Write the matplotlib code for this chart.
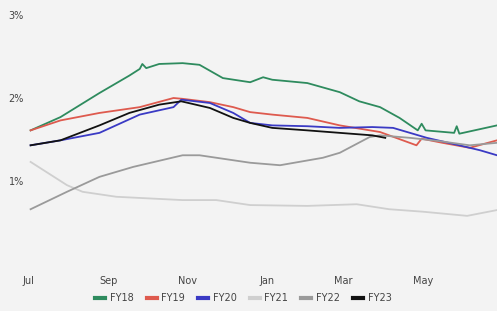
import matplotlib.pyplot as plt

# dias desde 1 de julho e valores em %
fy18_dias = [2, 25, 55, 78, 86, 88, 91, 101, 119, 132, 150, 171, 181, 188, 215, 240, 255, 271, 286, 300, 303, 306, 328, 330, 332, 361]
fy18 = [1.61, 1.77, 2.06, 2.27, 2.35, 2.41, 2.36, 2.41, 2.42, 2.40, 2.24, 2.19, 2.25, 2.22, 2.18, 2.07, 1.96, 1.89, 1.76, 1.61, 1.69, 1.61, 1.58, 1.66, 1.57, 1.67]

fy19_dias = [2, 25, 55, 86, 112, 119, 140, 158, 171, 188, 215, 240, 271, 299, 303, 319, 340, 361]
fy19 = [1.61, 1.73, 1.82, 1.89, 2.00, 1.99, 1.95, 1.89, 1.83, 1.80, 1.76, 1.67, 1.59, 1.43, 1.51, 1.46, 1.40, 1.49]

fy20_dias = [2, 25, 55, 86, 112, 118, 140, 158, 171, 188, 215, 240, 265, 281, 307, 332, 348, 361]
fy20 = [1.43, 1.49, 1.58, 1.80, 1.89, 1.98, 1.94, 1.82, 1.70, 1.67, 1.66, 1.64, 1.65, 1.64, 1.52, 1.43, 1.37, 1.31]

fy21_dias = [2, 30, 42, 68, 119, 145, 171, 215, 253, 278, 304, 338, 361]
fy21 = [1.23, 0.95, 0.87, 0.81, 0.77, 0.77, 0.71, 0.70, 0.72, 0.66, 0.63, 0.58, 0.65]

fy22_dias = [2, 30, 55, 81, 119, 132, 171, 194, 227, 240, 263, 271, 294, 317, 340, 361]
fy22 = [0.66, 0.87, 1.05, 1.17, 1.31, 1.31, 1.22, 1.19, 1.28, 1.34, 1.53, 1.55, 1.52, 1.48, 1.43, 1.46]

fy23_dias = [2, 25, 55, 78, 101, 118, 140, 158, 171, 188, 215, 240, 265, 275]
fy23 = [1.43, 1.49, 1.67, 1.82, 1.92, 1.96, 1.88, 1.76, 1.70, 1.64, 1.61, 1.58, 1.55, 1.52]

meses_pos = [0, 62, 123, 184, 243, 304]
meses = ["Jul", "Sep", "Nov", "Jan", "Mar", "May"]

fundo = "#f3f3f3"
fig = plt.figure(figsize=(4.97, 3.11), dpi=100, facecolor=fundo)
ax = fig.add_axes([28 / 497, 47 / 311, 469 / 497, 249 / 311], facecolor=fundo)

ax.plot(fy18_dias, fy18, color="#2e8b5e", lw=1.3, label="FY18")
ax.plot(fy19_dias, fy19, color="#de5a4e", lw=1.3, label="FY19")
ax.plot(fy20_dias, fy20, color="#3a3ac4", lw=1.3, label="FY20")
ax.plot(fy21_dias, fy21, color="#cfcfcf", lw=1.3, label="FY21")
ax.plot(fy22_dias, fy22, color="#9a9a9a", lw=1.3, label="FY22")
ax.plot(fy23_dias, fy23, color="#111111", lw=1.3, label="FY23")

ax.set_xlim(0, 361)
ax.set_ylim(0, 3)
ax.set_yticks([1, 2, 3])
ax.set_yticklabels(["1%", "2%", "3%"])
ax.set_xticks(meses_pos)
ax.set_xticklabels(meses)
ax.tick_params(length=0, labelsize=7, colors="#444444")
ax.tick_params(axis="x", pad=9)
ax.tick_params(axis="y", pad=3)
for s in ax.spines.values():
    s.set_visible(False)

leg = fig.legend(loc="center", bbox_to_anchor=(0.49, 0.042), ncol=6, frameon=False,
                 fontsize=7, handlelength=1.0, handletextpad=0.5, columnspacing=1.35)
for l in leg.get_lines():
    l.set_linewidth(3)
for t in leg.get_texts():
    t.set_color("#444444")

fig.savefig("out.png", dpi=100, facecolor=fundo)
